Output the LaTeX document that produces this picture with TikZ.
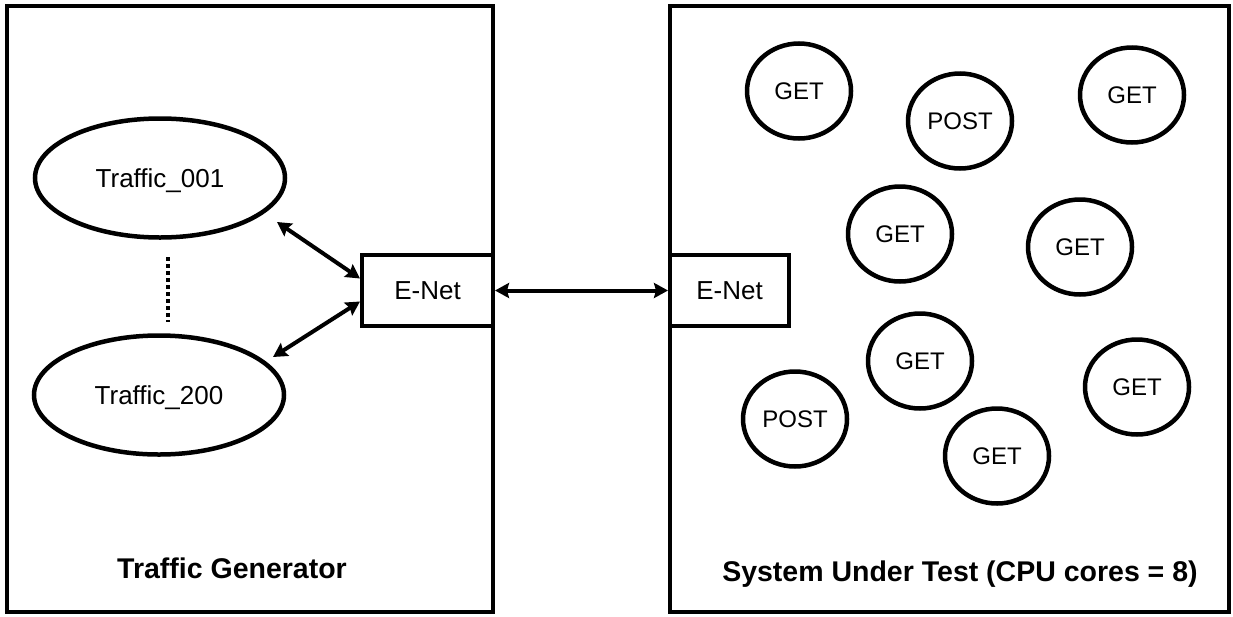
\documentclass[tikz,border=0pt]{standalone}
\usepackage{fontspec}
\setmainfont{Liberation Sans}
\usetikzlibrary{shapes.geometric,arrows.meta}
\begin{document}
\begin{tikzpicture}[x=1pt,y=-1pt,
  frame/.style={draw,line width=3.5pt,rectangle,inner sep=0pt},
  enet/.style={draw,line width=4pt,rectangle,inner sep=0pt,minimum height=71pt,font=\fontsize{26}{30}\selectfont,text height=18.6pt,text depth=0pt},
  traffic/.style={ellipse,draw,line width=4.5pt,minimum width=250pt,minimum height=119pt,inner sep=0pt,font=\fontsize{26}{30}\selectfont,text height=18.6pt,text depth=0pt},
  req/.style={ellipse,draw,line width=4.5pt,minimum width=104pt,minimum height=95pt,inner sep=0pt,font=\fontsize{24}{28}\selectfont,text height=17.2pt,text depth=0pt},
  boxtitle/.style={font=\bfseries\fontsize{28.5}{32}\selectfont,inner sep=0pt,text height=20.4pt,text depth=0pt},
  biarrow/.style={line width=4pt,{Stealth[length=14pt,width=15pt,inset=2pt]}-{Stealth[length=14pt,width=15pt,inset=2pt]}},
  dotline/.style={line width=4.5pt,dash pattern=on 3.5pt off 3.5pt}
]
\fill[white] (0,0) rectangle (1233,616);
\useasboundingbox (0,0) rectangle (1233,616);

% big boxes
\node[frame,minimum width=486pt,minimum height=606pt] (tg) at (250,309) {};
\node[frame,minimum width=559pt,minimum height=606pt] (sut) at (949.5,309) {};

% E-Net boxes
\node[enet,minimum width=131pt] (enl) at (427.5,290.5) {E-Net};
\node[enet,minimum width=119pt] (enr) at (729.5,290.5) {E-Net};

% traffic ellipses
\node[traffic] (t1) at (160,178) {Traffic\_001};
\node[traffic] (t2) at (159,395) {Traffic\_200};

% dotted line
\coordinate (d1) at (168,257);
\coordinate (d2) at (168,322);
\draw[dotline] (d1) -- (d2);

% arrows
\coordinate (a1) at (277,222);
\coordinate (a2) at (273,357);
\draw[biarrow] (a1) -- ([yshift=12pt]enl.west);
\draw[biarrow] (a2) -- ([yshift=-11pt]enl.west);
\draw[biarrow] (enl.east) -- (enr.west);

% requests
\node[req] (g1) at (799,91) {GET};
\node[req] (p1) at (960,121) {POST};
\node[req] (g2) at (1132,95) {GET};
\node[req] (g3) at (900,234) {GET};
\node[req] (g4) at (1080,247) {GET};
\node[req] (g5) at (920,361) {GET};
\node[req] (p2) at (795,419) {POST};
\node[req] (g6) at (997,456) {GET};
\node[req] (g7) at (1137,387) {GET};

% titles
\node[boxtitle] (tgl) at (232,568) {Traffic Generator};
\node[boxtitle] (sutl) at (960,571) {System Under Test (CPU cores = 8)};
\end{tikzpicture}
\end{document}
